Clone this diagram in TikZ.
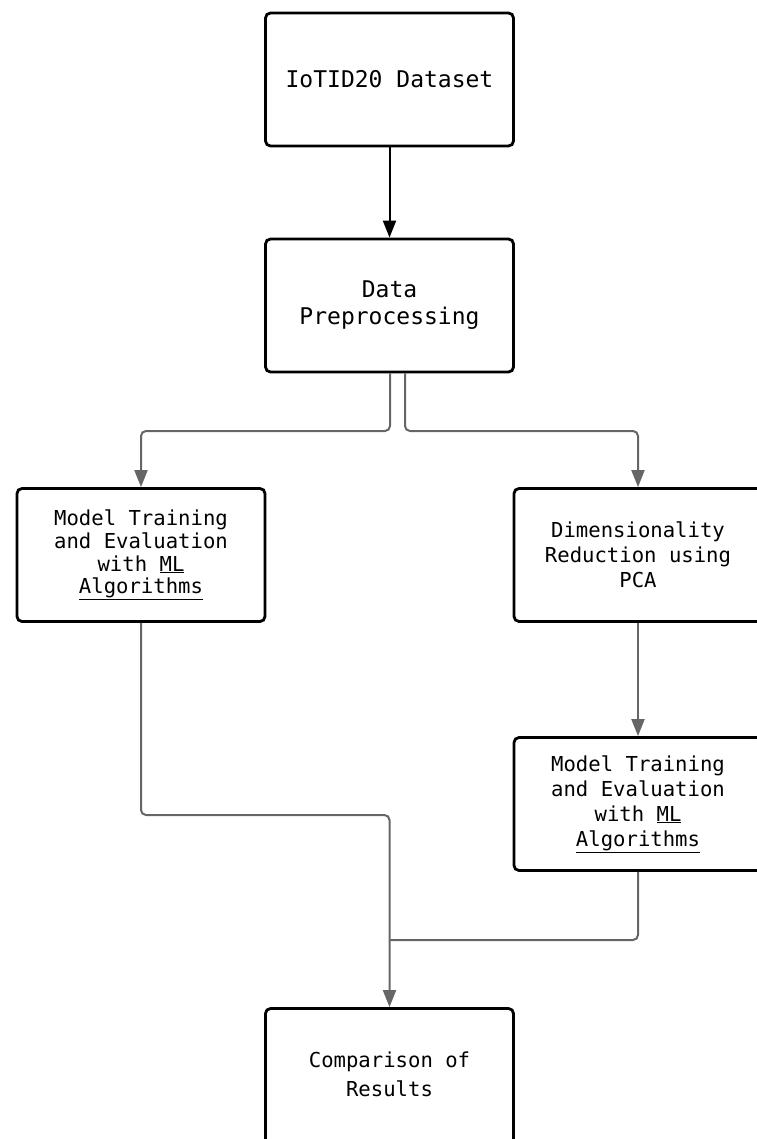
\documentclass[tikz,border=0pt]{standalone}
\usepackage{fontspec}
\newfontfamily\monofont{DejaVu Sans Mono}
\usetikzlibrary{arrows.meta}
\begin{document}
\begin{tikzpicture}[x=1pt,y=-1pt,
  box/.style={draw=black, line width=2.8pt, rounded corners=5pt, fill=white,
    minimum width=248pt, minimum height=133pt, align=center, inner sep=0pt,
    font=\monofont\fontsize{20.6pt}{24pt}\selectfont},
  bigbox/.style={box, font=\monofont\fontsize{23pt}{27pt}\selectfont},
  conn/.style={draw=black!60, line width=2pt, rounded corners=5pt},
  tip/.style={-{Triangle[length=17pt,width=13pt]}}
]
\useasboundingbox (0,0) rectangle (756,1139);
\node[bigbox] (b1) at (389.5,79.5) {IoTID20 Dataset};
\node[bigbox] (b2) at (389.5,305.5) {Data\\Preprocessing};
\node[box, font=\monofont\fontsize{20.6pt}{22.8pt}\selectfont] (b3) at (141,555) {Model Training\\and Evaluation\\with \underline{ML}\\\underline{Algorithms}};
\node[box, font=\monofont\fontsize{20.6pt}{25pt}\selectfont] (b4) at (638,555) {Dimensionality\\Reduction using\\PCA};
\node[box, font=\monofont\fontsize{20.6pt}{25pt}\selectfont] (b5) at (638,804) {Model Training\\and Evaluation\\with \underline{ML}\\\underline{Algorithms}};
\node[box, minimum height=145pt] (b6) at (389.5,1081) {};
\node[align=center, inner sep=0pt, font=\monofont\fontsize{20.6pt}{29pt}\selectfont] (b6t) at (389.5,1074) {Comparison of\\Results};
\coordinate (b2l) at ([xshift=0.5pt]b2.south);
\coordinate (b2r) at ([xshift=15.5pt]b2.south);
\draw[black, line width=2pt, tip] (b1.south) -- (b2.north);
\draw[conn, tip] (b2l) |- (266,431) -| (b3.north);
\draw[conn, tip] (b2r) |- (520,431) -| (b4.north);
\draw[conn, tip] (b3.south) |- (300,815) -| (b6.north);
\draw[conn, tip] (b4.south) -- (b5.north);
\coordinate (j) at (390,940);
\draw[conn] (b5.south) |- (j);
\end{tikzpicture}
\end{document}
